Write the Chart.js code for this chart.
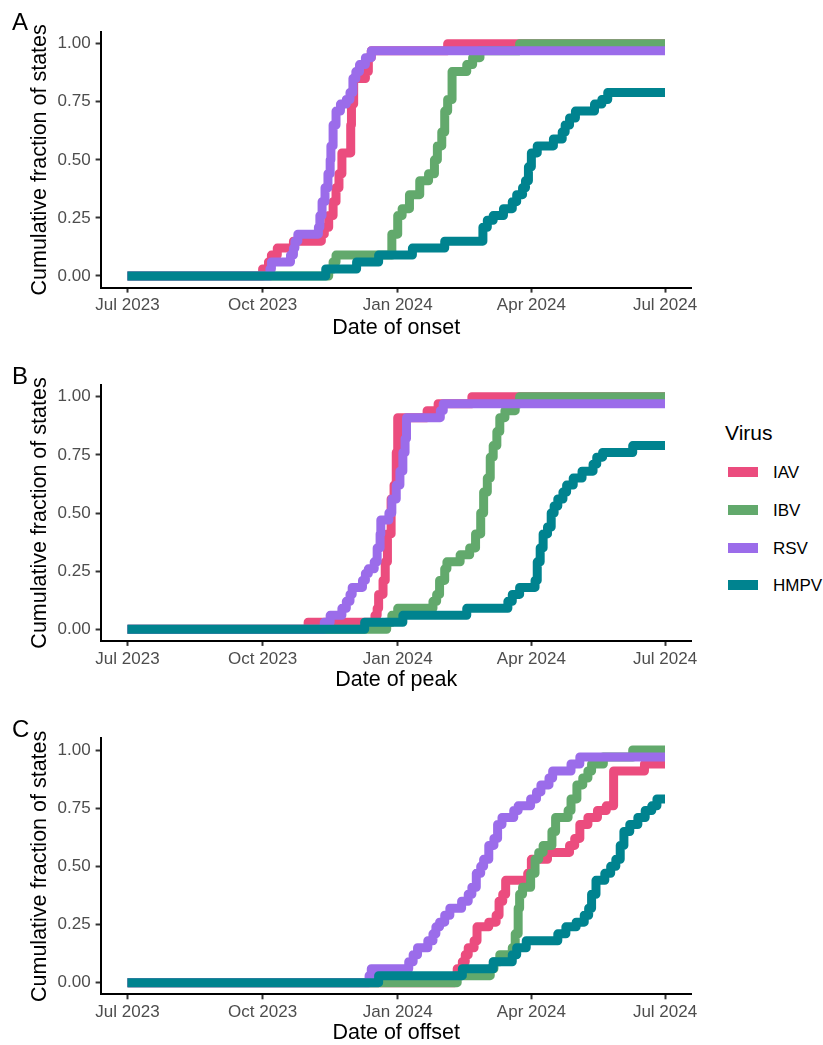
<!DOCTYPE html>
<html lang="en">
  <head>
    <meta charset="UTF-8" />
    <title>Cumulative fraction of states</title>
    <script src="https://cdn.jsdelivr.net/npm/chart.js"></script>
    <style>
      body { margin: 0; background: #fff; font-family: "Liberation Sans", Arial, sans-serif; }
      .wrap { position: relative; width: 823px; height: 1045px; overflow: hidden; }
      .panel { position: absolute; left: 0; }
      .tag { position: absolute; left: 12px; font-size: 24px; line-height: 1; color: #000; }
      .legTitle { position: absolute; left: 725px; top: 422px; font-size: 21px; line-height: 1; color: #000; }
      .legKey { position: absolute; left: 728px; width: 30px; height: 10px; }
      .legLabel { position: absolute; left: 773px; font-size: 17px; line-height: 1; color: #000; }
    </style>
  </head>
  <body>
    <div class="wrap">
      <canvas id="panelA" class="panel" style="top:0px" width="720" height="345"></canvas>
      <canvas id="panelB" class="panel" style="top:352px" width="720" height="345"></canvas>
      <canvas id="panelC" class="panel" style="top:705px" width="720" height="345"></canvas>
      <div class="tag" style="top:10px">A</div>
      <div class="tag" style="top:364px">B</div>
      <div class="tag" style="top:717px">C</div>
      <div class="legTitle">Virus</div>
      <div id="legend"></div>
    </div>

<script>
  // x values are days since 1 Jul 2023, y values are cumulative fraction of states
  const viruses = ["IAV", "IBV", "RSV", "HMPV"];
  const virusColors = ["#EB4C7E", "#62A96C", "#9B6CEA", "#00838F"];

  const xTickDays = [0, 92, 184, 275, 366];
  const xTickLabels = ["Jul 2023", "Oct 2023", "Jan 2024", "Apr 2024", "Jul 2024"];
  const yTicks = [0, 0.25, 0.5, 0.75, 1];

  // A - date of onset
  const onsetIAV = [[0,0],[92,0.03],[96,0.06],[98,0.09],[102,0.12],[113,0.15],[132,0.18],[134,0.21],[137,0.26],[140,0.32],[142,0.38],[144,0.44],[146,0.53],[152,0.65],[152.5,0.74],[154,0.85],[162,0.88],[164,0.94],[166,0.97],[218,1],[366,1]];
  const onsetIBV = [[0,0],[137,0.03],[140,0.06],[142,0.09],[180,0.18],[184,0.26],[187,0.29],[192,0.35],[199,0.41],[205,0.44],[209,0.5],[211,0.56],[214,0.62],[216,0.71],[218,0.76],[221,0.88],[231,0.91],[235,0.94],[240,0.97],[267,1],[366,1]];
  const onsetRSV = [[0,0],[97,0.03],[98,0.06],[111,0.09],[113,0.12],[114,0.15],[116,0.18],[130,0.21],[131,0.26],[132.5,0.32],[134.5,0.38],[136.5,0.44],[138,0.5],[138.5,0.56],[140,0.65],[142,0.71],[145,0.74],[149,0.76],[151.5,0.79],[153.5,0.85],[155.5,0.88],[158,0.91],[162,0.94],[166,0.97],[366,0.97]];
  const onsetHMPV = [[0,0],[135,0.03],[156,0.06],[171,0.09],[194,0.12],[216,0.15],[242,0.21],[245,0.24],[249,0.26],[256,0.29],[262,0.32],[265,0.35],[269,0.38],[271,0.41],[273,0.47],[275,0.53],[279,0.56],[290,0.59],[296,0.62],[298,0.65],[301,0.68],[305,0.71],[318,0.74],[323,0.76],[327,0.79],[366,0.79]];

  // B - date of peak
  const peakIAV = [[0,0],[123,0.03],[168.5,0.06],[170,0.09],[171,0.15],[174,0.21],[175.5,0.29],[177,0.41],[179.5,0.56],[181.5,0.62],[183,0.76],[184,0.91],[204,0.94],[211.5,0.97],[234.5,1],[366,1]];
  const peakIBV = [[0,0],[176.5,0.03],[180,0.06],[184,0.09],[208,0.12],[210.5,0.15],[212.5,0.21],[216,0.26],[217.5,0.29],[226.5,0.32],[233,0.35],[237,0.41],[240.5,0.5],[242.5,0.59],[245,0.65],[247,0.74],[249,0.79],[251.5,0.85],[253.5,0.91],[257,0.94],[264,0.97],[267,1],[366,1]];
  const peakRSV = [[0,0],[134,0.03],[138,0.06],[146,0.09],[149,0.12],[151.5,0.15],[153,0.18],[160,0.21],[162,0.24],[164,0.26],[168,0.29],[170,0.35],[172,0.41],[172.5,0.47],[178,0.5],[180,0.56],[183,0.62],[185.5,0.68],[187.5,0.76],[189,0.82],[190,0.91],[213,0.94],[215,0.97],[366,0.97]];
  const peakHMPV = [[0,0],[161.5,0.03],[187.5,0.06],[231,0.09],[259,0.12],[262,0.15],[267,0.18],[277.5,0.21],[279,0.29],[281,0.35],[283,0.41],[286,0.44],[288.5,0.5],[290.5,0.53],[293,0.56],[296.5,0.59],[299,0.62],[303.5,0.65],[309.5,0.68],[317,0.71],[319.5,0.74],[323.5,0.76],[344,0.79],[366,0.79]];

  // C - date of offset
  const offsetIAV = [[0,0],[223,0.03],[224.5,0.06],[228,0.09],[230,0.12],[232,0.15],[236,0.18],[238,0.24],[246,0.26],[251,0.29],[253,0.35],[255.5,0.38],[257.5,0.44],[272.5,0.47],[275,0.53],[286,0.56],[301,0.59],[304.5,0.62],[308,0.68],[313.5,0.71],[320,0.74],[326,0.76],[331,0.91],[352,0.94],[366,0.94]];
  const offsetIBV = [[0,0],[224.5,0.03],[247,0.06],[249.5,0.09],[253.5,0.12],[262,0.15],[264,0.21],[266,0.32],[267,0.38],[269,0.41],[274.5,0.47],[277.5,0.53],[280,0.56],[283,0.59],[289,0.65],[291.5,0.71],[300,0.74],[302,0.79],[306,0.85],[310,0.88],[313.5,0.91],[316,0.94],[324,0.97],[344,1],[366,1]];
  const offsetRSV = [[0,0],[164.5,0.03],[166,0.06],[191.5,0.09],[194.5,0.12],[197.5,0.15],[204.5,0.18],[208,0.21],[210,0.24],[212.5,0.26],[216,0.29],[219.5,0.32],[227.5,0.35],[232,0.38],[234.5,0.41],[237.5,0.47],[240.5,0.5],[242.5,0.53],[246,0.59],[249.5,0.62],[252,0.68],[255,0.71],[263,0.74],[266,0.76],[274.5,0.79],[278.5,0.82],[281.5,0.85],[287,0.88],[289.5,0.91],[302,0.94],[308,0.97],[366,0.97]];
  const offsetHMPV = [[0,0],[171,0.03],[228,0.06],[249,0.09],[262,0.12],[265,0.15],[271.5,0.18],[293,0.21],[298.5,0.24],[305.5,0.26],[311,0.29],[314,0.32],[316,0.38],[319,0.44],[325,0.47],[329,0.5],[332.5,0.53],[335.5,0.59],[338,0.65],[342,0.68],[347.5,0.71],[352.5,0.74],[357,0.76],[360.5,0.79],[366,0.79]];

  const fontFamily = '"Liberation Sans", Arial, sans-serif';

  // builds one panel; top/bottom are the plot area edges inside the canvas
  function makePanel(id, seriesList, xTitle, top, bottom) {
    const canvas = document.getElementById(id);
    const datasets = seriesList.map(function (serie, i) {
      return {
        label: viruses[i],
        data: serie.map(function (p) { return { x: p[0], y: p[1] }; }),
        borderColor: virusColors[i],
        backgroundColor: virusColors[i],
        borderWidth: 9,
        borderJoinStyle: "round",
        borderCapStyle: "butt",
        stepped: true,
        pointRadius: 0,
        fill: false,
        order: seriesList.length - 1 - i  // HMPV drawn last, on top
      };
    });

    new Chart(canvas, {
      type: "line",
      data: { datasets: datasets },
      options: {
        responsive: false,
        animation: false,
        events: [],
        layout: { padding: { left: 0, top: top, right: 720 - 691.9, bottom: 0 } },
        plugins: { legend: { display: false }, tooltip: { enabled: false } },
        scales: {
          x: {
            type: "linear",
            min: -18.3,
            max: 384.3,
            afterBuildTicks: function (axis) {
              axis.ticks = xTickDays.map(function (v) { return { value: v }; });
            },
            afterFit: function (s) { s.height = canvas.height - bottom; },
            ticks: {
              autoSkip: false,
              maxRotation: 0,
              padding: 3,
              color: "#4D4D4D",
              font: { family: fontFamily, size: 17 },
              callback: function (v) { return xTickLabels[xTickDays.indexOf(v)]; }
            },
            grid: { display: true, drawOnChartArea: false, drawTicks: true, tickLength: 5, tickWidth: 2, tickColor: "#333333" },
            border: { display: true, color: "#000000", width: 2 },
            title: {
              display: true,
              text: xTitle,
              color: "#000000",
              font: { family: fontFamily, size: 21.5 },
              padding: { top: 0, bottom: 4 }
            }
          },
          y: {
            min: -0.05,
            max: 1.05,
            afterBuildTicks: function (axis) {
              axis.ticks = yTicks.map(function (v) { return { value: v }; });
            },
            afterFit: function (s) { s.width = 100.6; },
            ticks: {
              padding: 5,
              color: "#4D4D4D",
              font: { family: fontFamily, size: 17 },
              callback: function (v) { return Number(v).toFixed(2); }
            },
            grid: { display: true, drawOnChartArea: false, drawTicks: true, tickLength: 5, tickWidth: 2, tickColor: "#333333" },
            border: { display: true, color: "#000000", width: 2 },
            title: {
              display: true,
              text: "Cumulative fraction of states",
              color: "#000000",
              font: { family: fontFamily, size: 21.5 },
              padding: { top: 27, bottom: 0 }
            }
          }
        }
      }
    });
  }

  makePanel("panelA", [onsetIAV, onsetIBV, onsetRSV, onsetHMPV], "Date of onset", 32.1, 287.6);
  makePanel("panelB", [peakIAV, peakIBV, peakRSV, peakHMPV], "Date of peak", 33.1, 288.9);
  makePanel("panelC", [offsetIAV, offsetIBV, offsetRSV, offsetHMPV], "Date of offset", 33.4, 289.3);

  // shared legend on the right
  const legendTops = [464, 501.5, 539.5, 577];
  let legendHtml = "";
  for (let i = 0; i < viruses.length; i++) {
    legendHtml += '<div class="legKey" style="top:' + (legendTops[i] + 3) + 'px;background:' + virusColors[i] + '"></div>';
    legendHtml += '<div class="legLabel" style="top:' + legendTops[i] + 'px">' + viruses[i] + "</div>";
  }
  document.getElementById("legend").innerHTML = legendHtml;
</script>
  </body>
</html>
